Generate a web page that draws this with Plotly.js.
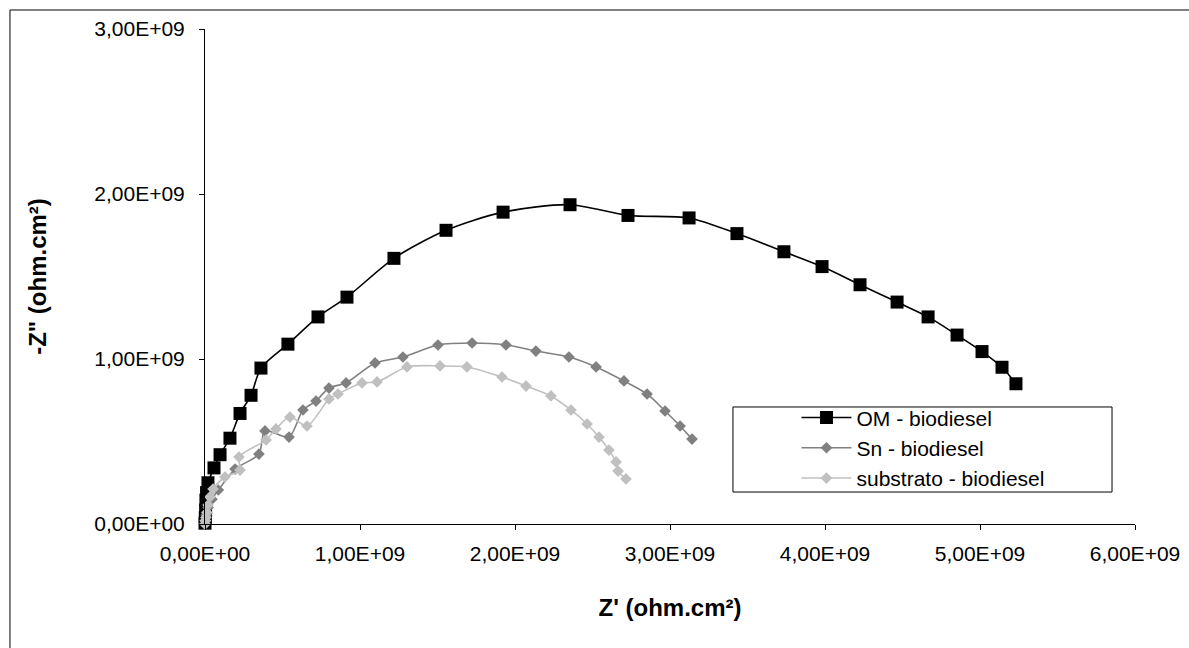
<!DOCTYPE html>
<html>
<head>
<meta charset="utf-8">
<script src="https://cdn.plot.ly/plotly-3.0.1.min.js"></script>
<style>html,body{margin:0;padding:0;background:#fff;}#chart{width:1189px;height:648px;}</style>
</head>
<body>
<div id="chart"></div>
<script>
// Values in units of 1E+09 ohm.cm²
const SCALE = 1e9;
const seriesNames = ["OM - biodiesel", "Sn - biodiesel", "substrato - biodiesel"];

const omX = [0, 0.002, 0.004, 0.006, 0.01, 0.019, 0.058, 0.097, 0.161, 0.226, 0.297, 0.361, 0.535, 0.729, 0.916, 1.219, 1.555, 1.923, 2.355, 2.729, 3.123, 3.432, 3.735, 3.981, 4.226, 4.465, 4.665, 4.852, 5.013, 5.142, 5.232];
const omY = [0.005, 0.04, 0.085, 0.145, 0.19, 0.25, 0.34, 0.42, 0.52, 0.67, 0.78, 0.945, 1.09, 1.255, 1.375, 1.61, 1.78, 1.89, 1.935, 1.87, 1.855, 1.76, 1.65, 1.56, 1.45, 1.345, 1.255, 1.145, 1.045, 0.95, 0.85];

const snX = [0, 0.003, 0.008, 0.02, 0.045, 0.086, 0.194, 0.348, 0.387, 0.542, 0.632, 0.716, 0.8, 0.91, 1.097, 1.277, 1.503, 1.723, 1.942, 2.135, 2.348, 2.523, 2.703, 2.852, 2.968, 3.065, 3.142];
const snY = [0, 0.02, 0.055, 0.1, 0.15, 0.206, 0.333, 0.424, 0.564, 0.527, 0.691, 0.745, 0.824, 0.855, 0.976, 1.012, 1.085, 1.097, 1.085, 1.048, 1.012, 0.952, 0.867, 0.788, 0.685, 0.594, 0.515];

const subX = [0, 0.002, 0.006, 0.012, 0.02, 0.032, 0.052, 0.129, 0.226, 0.219, 0.394, 0.458, 0.548, 0.658, 0.8, 0.858, 1.013, 1.11, 1.303, 1.516, 1.69, 1.916, 2.071, 2.232, 2.361, 2.465, 2.542, 2.606, 2.652, 2.665, 2.716];
const subY = [0, 0.02, 0.04, 0.07, 0.115, 0.164, 0.212, 0.285, 0.327, 0.406, 0.509, 0.576, 0.648, 0.594, 0.758, 0.788, 0.855, 0.861, 0.952, 0.958, 0.952, 0.891, 0.836, 0.776, 0.691, 0.606, 0.527, 0.448, 0.376, 0.321, 0.273];

const xTickVals = [0, 1, 2, 3, 4, 5, 6];
const xTickText = ["0,00E+00", "1,00E+09", "2,00E+09", "3,00E+09", "4,00E+09", "5,00E+09", "6,00E+09"];
const yTickVals = [0, 1, 2, 3];
const yTickText = ["0,00E+00", "1,00E+09", "2,00E+09", "3,00E+09"];

const sc = a => a.map(v => v * SCALE);
const FONT = '"Liberation Sans", Arial, sans-serif';

const traces = [
  {x: sc(omX), y: sc(omY), name: seriesNames[0], mode: 'lines+markers', cliponaxis: false,
   line: {color: '#000000', width: 1.6, shape: 'spline', smoothing: 0.8},
   marker: {symbol: 'square', size: 13, color: '#000000'}},
  {x: sc(snX), y: sc(snY), name: seriesNames[1], mode: 'lines+markers', cliponaxis: false,
   line: {color: '#808080', width: 1.6, shape: 'spline', smoothing: 0.8},
   marker: {symbol: 'diamond', size: 9, color: '#808080'}},
  {x: sc(subX), y: sc(subY), name: seriesNames[2], mode: 'lines+markers', cliponaxis: false,
   line: {color: '#c0c0c0', width: 1.6, shape: 'spline', smoothing: 0.8},
   marker: {symbol: 'diamond', size: 9, color: '#c0c0c0'}}
];

const layout = {
  width: 1189, height: 648,
  margin: {l: 205, r: 54, t: 29, b: 124},
  paper_bgcolor: '#ffffff', plot_bgcolor: '#ffffff',
  font: {family: FONT, size: 21, color: '#000000'},
  showlegend: true,
  legend: {x: 0.636, y: 0.256, xanchor: 'left', yanchor: 'top', bgcolor: 'rgba(0,0,0,0)',
    borderwidth: 0, font: {family: FONT, size: 21, color: '#000'}, itemwidth: 50, tracegroupgap: 0},
  xaxis: {
    range: [0, 6 * SCALE], tickvals: sc(xTickVals), ticktext: xTickText,
    showgrid: false, zeroline: false, showline: true, linecolor: '#000', linewidth: 1,
    ticks: 'outside', ticklen: 5, tickcolor: '#000', tickwidth: 1, ticklabelstandoff: 6,
    tickfont: {family: FONT, size: 21, color: '#000'},
    title: {text: "Z' (ohm.cm²)", font: {family: FONT, size: 24, color: '#000', weight: 'bold'}, standoff: 34}
  },
  yaxis: {
    range: [0, 3 * SCALE], tickvals: sc(yTickVals), ticktext: yTickText,
    showgrid: false, zeroline: false, showline: true, linecolor: '#000', linewidth: 1,
    ticks: 'outside', ticklen: 5, tickcolor: '#000', tickwidth: 1, ticklabelstandoff: 10,
    tickfont: {family: FONT, size: 21, color: '#000'},
    title: {text: '-Z" (ohm.cm²)', font: {family: FONT, size: 24, color: '#000', weight: 'bold'}, standoff: 40}
  },
  shapes: [
    {type: 'rect', xref: 'paper', yref: 'paper', x0: -0.2097, x1: 1.2, y0: -0.4, y1: 1.0384,
     line: {color: '#000', width: 1}, fillcolor: 'rgba(0,0,0,0)', layer: 'below'},
    {type: 'rect', xref: 'paper', yref: 'paper', x0: 0.5677, x1: 0.9753, y0: 0.0646, y1: 0.2364,
     line: {color: '#000', width: 1}, fillcolor: 'rgba(0,0,0,0)', layer: 'above'}
  ]
};

Plotly.newPlot('chart', traces, layout, {displayModeBar: false, staticPlot: true});
</script>
</body>
</html>
